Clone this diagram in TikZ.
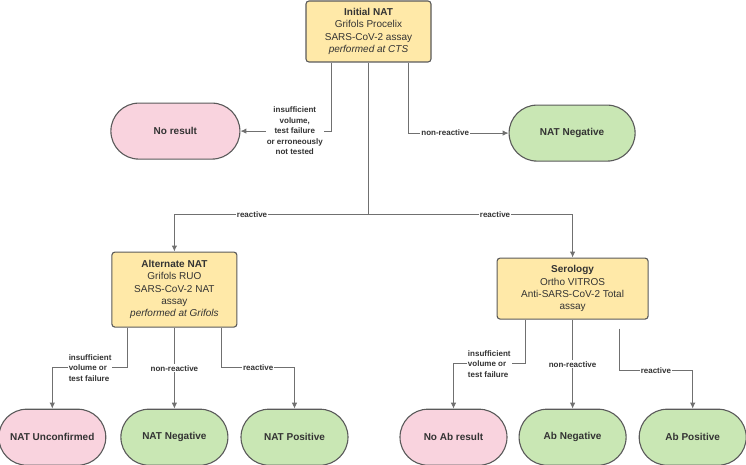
\documentclass[tikz,border=0pt]{standalone}
\usepackage{fontspec}
\setmainfont{Liberation Sans}
\usetikzlibrary{positioning,arrows.meta}
\definecolor{tst}{RGB}{255,233,168}
\definecolor{bad}{RGB}{249,211,222}
\definecolor{good}{RGB}{201,231,180}
\definecolor{edge}{RGB}{90,90,90}
\definecolor{wire}{RGB}{112,112,112}
\definecolor{ink}{RGB}{51,51,51}

\begin{document}
\begin{tikzpicture}[font=\fontsize{10}{12.3}\selectfont,>={Latex[length=6pt,width=5.5pt]},
  tstbox/.style={draw=edge,line width=1.1pt,rounded corners=3pt,fill=tst,text=ink,align=center,inner sep=2pt},
  pill/.style={draw=edge,line width=1.1pt,rounded corners=28pt,minimum height=56pt,minimum width=107pt,text=ink,font=\fontsize{10}{12}\selectfont\bfseries},
  badp/.style={pill,fill=bad}, goodp/.style={pill,fill=good},
  lbl/.style={fill=white,text=ink,inner sep=1pt,font=\fontsize{8}{10.5}\selectfont\bfseries,align=center},
  wires/.style={draw=wire,line width=0.9pt}]
  \useasboundingbox (-368.5pt,31.5pt) rectangle (377.5pt,-433.5pt);
  % tests
  \node[tstbox,minimum width=125pt,minimum height=61pt] (init) at (0,0)
    {\textbf{Initial NAT}\\Grifols Procelix\\SARS-CoV-2 assay\\\textit{performed at CTS}};
  \node[badp,minimum width=129pt,below left=40pt and 65pt of init] (nores) {No result};
  \node[goodp,minimum width=126pt,below right=42pt and 77pt of init] (nneg0) {NAT Negative};
  \node[tstbox,minimum width=125pt,minimum height=75pt,below left=189pt and 68pt of init] (alt)
    {\textbf{Alternate NAT}\\Grifols RUO\\SARS-CoV-2 NAT\\assay\\\textit{performed at Grifols}};
  \node[tstbox,minimum width=151pt,minimum height=61pt,below right=195pt and 65pt of init] (sero)
    {\textbf{Serology}\\Ortho VITROS\\Anti-SARS-CoV-2 Total\\assay};
  % outcomes
  \node[goodp,below=81pt of alt] (nneg) {NAT Negative};
  \node[badp,left=14pt of nneg] (nunc) {NAT Unconfirmed};
  \node[goodp,right=12pt of nneg] (npos) {NAT Positive};
  \node[goodp,below=89pt of sero] (abneg) {Ab Negative};
  \node[badp,left=11pt of abneg] (noab) {No Ab result};
  \node[goodp,right=12pt of abneg] (abpos) {Ab Positive};
  \coordinate[below=152pt of init.south] (split);
  % connectors
  \draw[wires,->] ([xshift=-37.5pt]init.south) |- node[lbl,pos=0.7]{insufficient\\volume,\\test failure\\or erroneously\\not tested} (nores.east);
  \draw[wires,->] ([xshift=39.5pt]init.south) |- node[lbl,pos=0.685]{non-reactive} (nneg0.west);
  \draw[wires] (init.south) -- (split);
  \draw[wires,->] (split) -| node[lbl,pos=0.3]{reactive} (alt.north);
  \draw[wires,->] (split) -| node[lbl,pos=0.31]{reactive} (sero.north);
  \draw[wires,->] ([xshift=-46.5pt]alt.south) -- ++(0,-40pt) -| node[lbl,pos=0.25,align=left]{insufficient\\volume or\\test failure} (nunc.north);
  \draw[wires,->] (alt.south) -- node[lbl]{non-reactive} (nneg.north);
  \draw[wires,->] ([xshift=47.5pt]alt.south) -- ++(0,-40pt) -| node[lbl,pos=0.25]{reactive} (npos.north);
  \draw[wires,->] ([xshift=-47.5pt]sero.south) -- ++(0,-44pt) -| node[lbl,pos=0.25,align=left]{insufficient\\volume or\\test failure} (noab.north);
  \draw[wires,->] (sero.south) -- node[lbl]{non-reactive} (abneg.north);
  \draw[wires,->] ([xshift=46.5pt,yshift=-9pt]sero.south) -- ++(0,-42pt) -| node[lbl,pos=0.25]{reactive} (abpos.north);
\end{tikzpicture}
\end{document}
